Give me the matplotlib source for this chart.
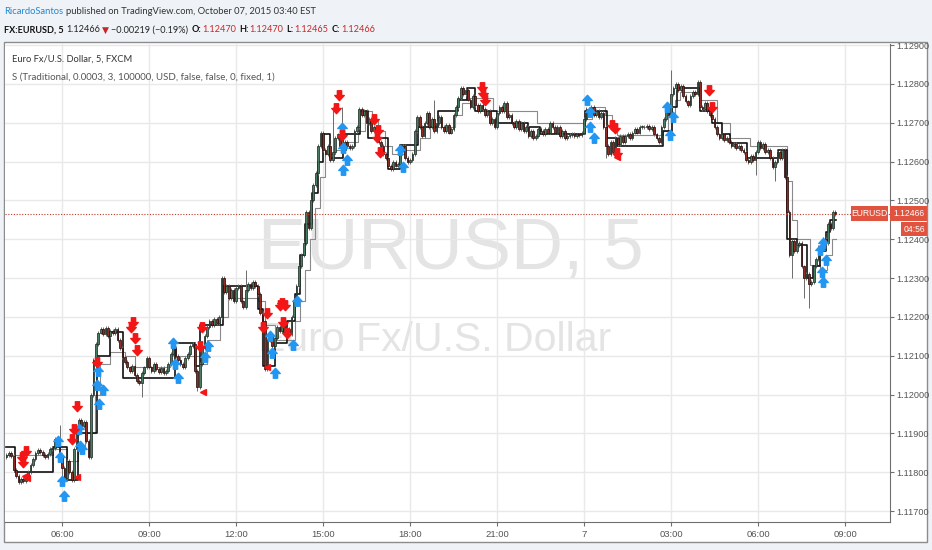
import numpy as np
import matplotlib
matplotlib.use("Agg")
import matplotlib.pyplot as plt
from matplotlib.path import Path
from matplotlib.patches import Rectangle

# 5 minute closes, one row per hour (04:05 day 1 ... 08:40 day 2)
c04 = [1.11845, 1.11850, 1.11842, 1.11805, 1.11790, 1.11775, 1.11782, 1.11778, 1.11790, 1.11800, 1.11818]
c05 = [1.11835, 1.11850, 1.11858, 1.11852, 1.11845, 1.11840, 1.11848, 1.11860, 1.11862, 1.11885, 1.11870, 1.11845]
c06 = [1.11810, 1.11785, 1.11830, 1.11800, 1.11780, 1.11860, 1.11900, 1.11935, 1.11920, 1.11930, 1.11880, 1.11840]
c07 = [1.12000, 1.12090, 1.12130, 1.12160, 1.12170, 1.12155, 1.12172, 1.12150, 1.12165, 1.12158, 1.12170, 1.12140]
c08 = [1.12120, 1.12098, 1.12085, 1.12070, 1.12060, 1.12075, 1.12050, 1.12035, 1.12030, 1.12055, 1.12070, 1.12095]
c09 = [1.12070, 1.12060, 1.12078, 1.12065, 1.12058, 1.12068, 1.12055, 1.12060, 1.12080, 1.12105, 1.12120, 1.12100]
c10 = [1.12090, 1.12078, 1.12072, 1.12095, 1.12105, 1.12125, 1.12130, 1.12060, 1.12020, 1.12080, 1.12120, 1.12150]
c11 = [1.12175, 1.12190, 1.12180, 1.12195, 1.12185, 1.12200, 1.12300, 1.12265, 1.12280, 1.12250, 1.12270, 1.12240]
c12 = [1.12275, 1.12280, 1.12240, 1.12225, 1.12270, 1.12285, 1.12275, 1.12290, 1.12280, 1.12260, 1.12210, 1.12190]
c13 = [1.12065, 1.12140, 1.12150, 1.12125, 1.12145, 1.12175, 1.12165, 1.12180, 1.12160, 1.12170, 1.12155, 1.12200]
c14 = [1.12245, 1.12280, 1.12330, 1.12360, 1.12390, 1.12470, 1.12430, 1.12500, 1.12540, 1.12570, 1.12640, 1.12675]
c15 = [1.12630, 1.12620, 1.12640, 1.12605, 1.12625, 1.12660, 1.12670, 1.12640, 1.12630, 1.12650, 1.12640, 1.12635]
c16 = [1.12640, 1.12680, 1.12690, 1.12735, 1.12720, 1.12730, 1.12700, 1.12710, 1.12680, 1.12690, 1.12665, 1.12650]
c17 = [1.12640, 1.12620, 1.12610, 1.12590, 1.12580, 1.12600, 1.12590, 1.12595, 1.12630, 1.12640, 1.12610, 1.12600]
c18 = [1.12605, 1.12620, 1.12680, 1.12715, 1.12690, 1.12665, 1.12700, 1.12725, 1.12690, 1.12710, 1.12680, 1.12700]
c19 = [1.12715, 1.12690, 1.12680, 1.12695, 1.12675, 1.12685, 1.12720, 1.12740, 1.12765, 1.12790, 1.12775, 1.12785]
c20 = [1.12760, 1.12740, 1.12770, 1.12745, 1.12730, 1.12745, 1.12735, 1.12720, 1.12730, 1.12700, 1.12710, 1.12690]
c21 = [1.12725, 1.12740, 1.12730, 1.12750, 1.12715, 1.12720, 1.12700, 1.12690, 1.12705, 1.12685, 1.12700, 1.12680]
c22 = [1.12690, 1.12665, 1.12680, 1.12660, 1.12665, 1.12685, 1.12680, 1.12670, 1.12685, 1.12675, 1.12700, 1.12690]
c23 = [1.12675, 1.12690, 1.12665, 1.12680, 1.12660, 1.12665, 1.12668, 1.12672, 1.12665, 1.12670, 1.12668, 1.12675]
c24 = [1.12710, 1.12735, 1.12725, 1.12740, 1.12720, 1.12730, 1.12715, 1.12725, 1.12690, 1.12640, 1.12620, 1.12650]
c25 = [1.12625, 1.12660, 1.12645, 1.12665, 1.12650, 1.12665, 1.12672, 1.12660, 1.12675, 1.12685, 1.12675, 1.12690]
c26 = [1.12690, 1.12688, 1.12692, 1.12685, 1.12690, 1.12670, 1.12660, 1.12650, 1.12690, 1.12710, 1.12740, 1.12720]
c27 = [1.12775, 1.12790, 1.12800, 1.12785, 1.12795, 1.12770, 1.12755, 1.12745, 1.12770, 1.12780, 1.12775, 1.12805]
c28 = [1.12740, 1.12735, 1.12750, 1.12730, 1.12720, 1.12710, 1.12690, 1.12670, 1.12660, 1.12670, 1.12655, 1.12660]
c29 = [1.12650, 1.12640, 1.12645, 1.12635, 1.12640, 1.12630, 1.12625, 1.12605, 1.12600, 1.12615, 1.12605, 1.12625]
c30 = [1.12650, 1.12635, 1.12645, 1.12625, 1.12630, 1.12610, 1.12585, 1.12600, 1.12625, 1.12610, 1.12630, 1.12560]
c31 = [1.12470, 1.12360, 1.12395, 1.12370, 1.12385, 1.12390, 1.12330, 1.12300, 1.12310, 1.12285, 1.12290, 1.12330]
c32 = [1.12350, 1.12380, 1.12375, 1.12400, 1.12390, 1.12440, 1.12430, 1.12470, 1.12466]

first_open = 1.11840
start_hour = 4 + 5 / 60     # first bar 04:05, hours counted from midnight of day 1

# wicks that stick out further than the usual
wick_hi = {22: 1.11923, 99: 1.12322, 135: 1.12740, 139: 1.12740, 177: 1.12760, 275: 1.12836}
wick_lo = {23: 1.11770, 56: 1.11995, 79: 1.12010, 248: 1.12610, 310: 1.12566,
           318: 1.12550, 325: 1.12300, 330: 1.12250, 332: 1.12224}

# trailing stop lines (black = thick, grey = thin), breakpoints in hours
black_t = [4.08, 4.38, 5.69, 6.17, 6.55, 7.21, 7.66, 8.10, 9.90, 10.59, 10.76, 11.55, 12.76, 12.93,
           13.34, 13.76, 14.03, 14.21, 14.38, 14.62, 14.83, 15.00, 15.24, 15.69, 16.28, 16.55, 17.24,
           17.66, 18.28, 18.97, 19.66, 19.97, 20.24, 21.00, 22.07, 22.48, 24.03, 24.79, 25.14, 26.72,
           27.03, 27.21, 28.00, 28.41, 28.76, 29.03, 29.62, 30.69, 31.00, 31.34, 31.69, 31.90, 32.14,
           32.34, 32.48, 32.69]
black_p = [1.11866, 1.11800, 1.11866, 1.11780, 1.11900, 1.12100, 1.12162, 1.12044, 1.12134, 1.12075,
           1.12180, 1.12280, 1.12220, 1.12073, 1.12134, 1.12190, 1.12260, 1.12360, 1.12440, 1.12520,
           1.12600, 1.12670, 1.12610, 1.12671, 1.12730, 1.12660, 1.12580, 1.12643, 1.12690, 1.12730,
           1.12760, 1.12790, 1.12730, 1.12700, 1.12690, 1.12671, 1.12730, 1.12660, 1.12640, 1.12680,
           1.12740, 1.12790, 1.12730, 1.12700, 1.12671, 1.12648, 1.12610, 1.12630, 1.12400, 1.12385,
           1.12300, 1.12330, 1.12370, 1.12420, 1.12450, 1.12450]
grey_t = [4.08, 5.69, 6.17, 6.55, 6.79, 7.14, 7.31, 7.66, 8.17, 8.52, 9.72, 10.07, 10.76, 11.00, 11.45,
          11.72, 12.76, 13.00, 13.34, 14.03, 14.21, 14.38, 14.55, 14.72, 14.90, 15.07, 15.41, 15.76,
          16.21, 16.45, 16.69, 16.90, 17.14, 17.38, 17.83, 18.34, 18.69, 19.55, 19.79, 20.07, 20.86,
          22.38, 24.03, 24.28, 24.72, 24.97, 25.14, 26.72, 26.90, 27.14, 27.31, 28.00, 28.59, 29.03,
          29.72, 31.00, 31.17, 31.34, 31.79, 32.14, 32.38, 32.55, 32.69]
grey_p = [1.11845, 1.11860, 1.11830, 1.11860, 1.11900, 1.12000, 1.12080, 1.12110, 1.12100, 1.12070,
          1.12080, 1.12100, 1.12080, 1.12140, 1.12200, 1.12250, 1.12240, 1.12180, 1.12140, 1.12190,
          1.12240, 1.12320, 1.12400, 1.12480, 1.12560, 1.12620, 1.12630, 1.12650, 1.12680, 1.12730,
          1.12710, 1.12680, 1.12640, 1.12620, 1.12630, 1.12660, 1.12690, 1.12720, 1.12750, 1.12763,
          1.12730, 1.12700, 1.12710, 1.12740, 1.12720, 1.12700, 1.12669, 1.12680, 1.12720, 1.12760,
          1.12780, 1.12760, 1.12700, 1.12660, 1.12640, 1.12550, 1.12450, 1.12400, 1.12335, 1.12320,
          1.12360, 1.12400, 1.12400]

# signal markers
sell_t = [4.62, 4.76, 4.66, 6.52, 6.41, 6.34, 7.21, 8.45, 8.38, 8.52, 8.59, 10.83, 10.76, 13.07, 12.93,
          13.52, 13.59, 13.69, 13.62, 13.76, 15.55, 15.45, 15.66, 16.76, 16.90, 16.86, 16.97, 20.48,
          20.52, 20.59, 24.97, 25.07, 25.14, 28.31, 28.41]
sell_p = [1.11839, 1.11854, 1.11826, 1.11970, 1.11911, 1.11887, 1.12085, 1.12186, 1.12173, 1.12147,
          1.12116, 1.12175, 1.12124, 1.12211, 1.12175, 1.12232, 1.12236, 1.12232, 1.12186, 1.12160,
          1.12772, 1.12738, 1.12669, 1.12710, 1.12682, 1.12664, 1.12625, 1.12792, 1.12777, 1.12759,
          1.12695, 1.12687, 1.12623, 1.12785, 1.12741]
buy_t = [5.86, 5.93, 6.00, 6.07, 6.59, 6.62, 6.69, 7.24, 7.21, 7.41, 7.28, 9.83, 9.90, 10.00, 11.03,
         10.93, 13.17, 13.24, 13.34, 13.97, 14.10, 15.66, 15.69, 15.83, 15.69, 17.66, 17.76, 24.10,
         24.21, 24.21, 24.34, 26.86, 26.97, 27.07, 32.14, 32.24, 32.34, 32.21, 32.24]
buy_p = [1.11880, 1.11839, 1.11777, 1.11738, 1.11911, 1.11867, 1.11859, 1.12060, 1.12026, 1.12013,
         1.11975, 1.12134, 1.12078, 1.12044, 1.12124, 1.12098, 1.12150, 1.12108, 1.12057, 1.12129,
         1.12240, 1.12687, 1.12635, 1.12605, 1.12579, 1.12630, 1.12587, 1.12759, 1.12728, 1.12689,
         1.12661, 1.12741, 1.12669, 1.12715, 1.12373, 1.12391, 1.12348, 1.12317, 1.12291]
stop_t = [4.79, 4.72, 6.52, 10.86, 13.07, 25.14]
stop_p = [1.11785, 1.11790, 1.11787, 1.12008, 1.12070, 1.12612]

last_price = 1.12466
price_ticks = [1.117, 1.118, 1.119, 1.120, 1.121, 1.122, 1.123, 1.124, 1.125, 1.126, 1.127, 1.128, 1.129]
time_ticks = [6, 9, 12, 15, 18, 21, 24, 27, 30, 33]
time_labels = ["06:00", "09:00", "12:00", "15:00", "18:00", "21:00", "7", "03:00", "06:00", "09:00"]

# ---------------------------------------------------------------
W, H = 932, 550
FONT = ["Liberation Sans", "DejaVu Sans"]
HEAD = ["Lato", "Liberation Sans", "DejaVu Sans"]
plt.rcParams["font.family"] = FONT

closes = np.array(c04 + c05 + c06 + c07 + c08 + c09 + c10 + c11 + c12 + c13 + c14 + c15 + c16 + c17 +
                  c18 + c19 + c20 + c21 + c22 + c23 + c24 + c25 + c26 + c27 + c28 + c29 + c30 + c31 + c32)
opens = np.concatenate([[first_open], closes[:-1]])
times = start_hour + np.arange(len(closes)) / 12
highs = np.maximum(opens, closes) + 0.00005
lows = np.minimum(opens, closes) - 0.00005
for i, v in wick_hi.items():
    highs[i] = v
for i, v in wick_lo.items():
    lows[i] = v

fig = plt.figure(figsize=(W / 100, H / 100), dpi=100, facecolor="#eff2f6")
renderer = fig.canvas.get_renderer()

def px(x, y):
    return x / W, 1 - y / H

# white chart frame
fig.add_artist(Rectangle(px(4, 542), 923 / W, 500 / H, transform=fig.transFigure,
                         facecolor="white", edgecolor="#8c8c8c", lw=1, zorder=0))

ax = fig.add_axes([5 / W, 28 / H, 885 / W, 478 / H])
ax.set_facecolor("white")
ax.set_xlim(4.034, 34.55)
ax.set_ylim(1.11672, 1.12903)

# watermark
ax.text((258 - 5) / 885, (522 - 250) / 478, "EURUSD, 5", transform=ax.transAxes, fontsize=52,
        color="#e4e4e4", va="center", ha="left", zorder=0)
ax.text((258 - 5) / 885, (522 - 340) / 478, "Euro Fx/U.S. Dollar", transform=ax.transAxes, fontsize=29.5,
        color="#e4e4e4", va="center", ha="left", zorder=0)

# grid
ax.set_yticks(price_ticks)
ax.set_yticklabels([f"{p:.5f}" for p in price_ticks])
ax.set_xticks(time_ticks)
ax.set_xticklabels(time_labels)
ax.grid(True, color="#e9e9e9", lw=1, zorder=0)
ax.set_axisbelow(True)

# trailing lines
ax.step(grey_t, grey_p, where="post", color="#8a8a8a", lw=0.8, zorder=2)
ax.step(black_t, black_p, where="post", color="#111111", lw=1.2, zorder=2)

# candles
up = closes >= opens
ax.vlines(times, lows, highs, color="#6b6b6b", lw=0.7, zorder=3)
body_lo = np.minimum(opens, closes)
body_h = np.maximum(np.abs(closes - opens), 0.00002)
ax.bar(times[up], body_h[up], bottom=body_lo[up], width=0.06, color="#4a7c61",
       edgecolor="#1e2e26", lw=0.55, zorder=4)
ax.bar(times[~up], body_h[~up], bottom=body_lo[~up], width=0.06, color="#8f2d24",
       edgecolor="#2a0d0a", lw=0.55, zorder=4)

# signal arrows
arrow_up = Path([(-1, 0), (0, 1.1), (1, 0), (0.45, 0), (0.45, -1), (-0.45, -1), (-0.45, 0), (-1, 0)],
                [1, 2, 2, 2, 2, 2, 2, 79])
arrow_dn = Path([(x, -y) for x, y in arrow_up.vertices], arrow_up.codes)
ax.plot(buy_t, buy_p, ls="none", marker=arrow_up, ms=7.5, color="#2196f3", mec="#2196f3", zorder=5)
ax.plot(sell_t, sell_p, ls="none", marker=arrow_dn, ms=7.5, color="#f21616", mec="#f21616", zorder=5)
ax.plot(stop_t, stop_p, ls="none", marker="<", ms=4.5, color="#f21616", zorder=5)

# last price line
ax.axhline(last_price, color="#c0392b", lw=0.8, ls=(0, (1, 1.5)), zorder=6)

# axes look
for s in ["left", "top"]:
    ax.spines[s].set_visible(False)
for s in ["right", "bottom"]:
    ax.spines[s].set_color("#6f6f6f")
ax.yaxis.tick_right()
ax.tick_params(axis="y", length=3, color="#6f6f6f", labelsize=6.6, labelcolor="#555555", pad=1.5)
ax.tick_params(axis="x", length=3, color="#6f6f6f", labelsize=6.8, labelcolor="#555555", pad=3)

# header: pieces of text laid one after the other, scaled to span the width seen in the reference
def line(x, y, pieces, right):
    size = 10.0
    for _ in range(2):
        xx, made = x, []
        for s, gap, kw in pieces:
            t = fig.text(*px(xx, y), s, fontsize=size, va="center", **kw)
            xx += t.get_window_extent(renderer=renderer).width + gap * size / 8
            made.append(t)
        if _ == 0:
            for t in made:
                t.remove()
            size *= (right - x) / (xx - x)

BOLD = dict(color="#111111", weight="bold", family=HEAD)
RED = dict(color="#c62828", family=HEAD)
DARK = dict(color="#222222", family=HEAD)
line(4, 12, [("RicardoSantos", 3, dict(color="#1e88d6", family=HEAD)),
             ("published on TradingView.com, October 07, 2015 03:40 EST", 0,
              dict(color="#333333", family=HEAD))], 318)
line(4, 30, [("FX:EURUSD, 5", 3, BOLD),
             ("1.12466", 3, DARK),
             ("▼", 2, dict(color="#c62828", family=["DejaVu Sans"])),
             ("\u22120.00219 (\u22120.19%)", 4, DARK),
             ("O:", 1, BOLD), ("1.12470", 4, RED),
             ("H:", 1, BOLD), ("1.12470", 4, RED),
             ("L:", 1, BOLD), ("1.12465", 4, RED),
             ("C:", 1, BOLD), ("1.12466", 0, RED)], 378)
line(12, 59, [("Euro Fx/U.S. Dollar, 5, FXCM", 0, dict(color="#333333", family=HEAD))], 132)
line(12, 77, [("S (Traditional, 0.0003, 3, 100000, USD, false, false, 0, fixed, 1)", 0,
               dict(color="#555555", family=HEAD))], 274)

# price tags on the right
def tag(x0, y0, w, h, s):
    fig.add_artist(Rectangle(px(x0, y0 + h), w / W, h / H, transform=fig.transFigure,
                             facecolor="#e0533f", edgecolor="none", zorder=10))
    fig.text(*px(x0 + w / 2, y0 + h / 2), s, color="white", fontsize=6.2, ha="center", va="center",
             zorder=11)

tag(851, 206, 37, 15, "EURUSD")
tag(890, 206, 37, 15, f"{last_price:.5f}")
tag(901, 222, 26, 14, "04:56")

fig.savefig("out.png", dpi=100, facecolor=fig.get_facecolor())
